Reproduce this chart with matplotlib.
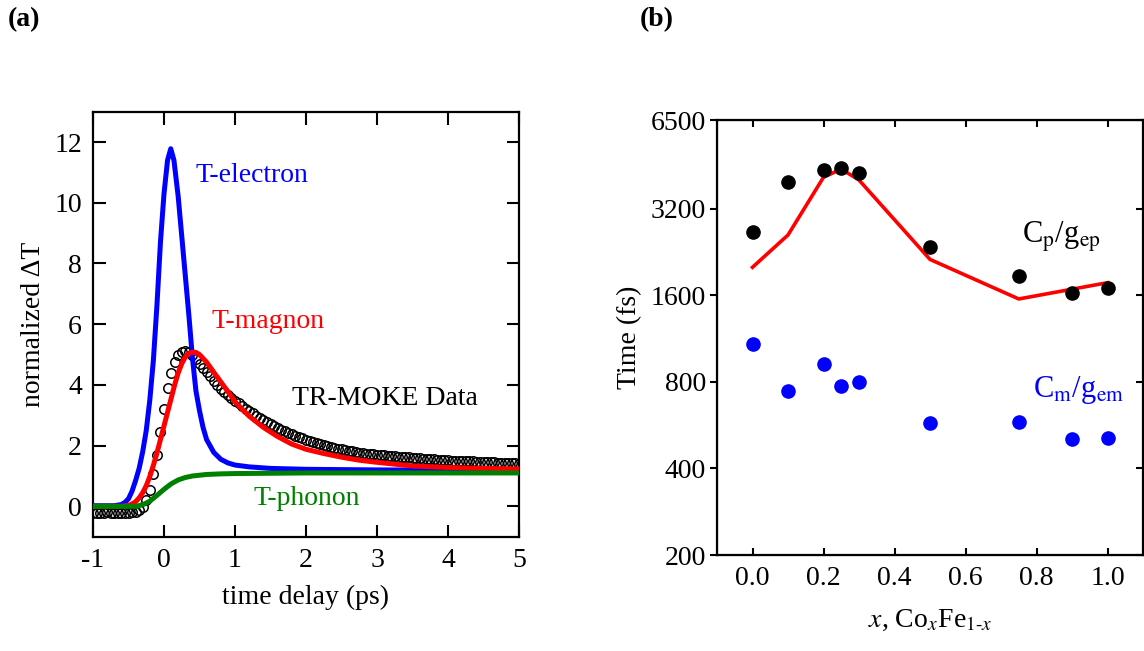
import matplotlib
matplotlib.use('Agg')
import matplotlib.pyplot as plt
import numpy as np
from matplotlib.ticker import FixedLocator, FixedFormatter, NullLocator, NullFormatter

plt.rcParams['font.family'] = ['Liberation Serif', 'DejaVu Serif']
plt.rcParams['mathtext.fontset'] = 'stix'
plt.rcParams['axes.unicode_minus'] = False

# ---- panel (a): normalized temperatures vs time delay ----
moke_t = [-1.0, -0.95, -0.9, -0.85, -0.8, -0.75, -0.7, -0.65, -0.6, -0.55,
          -0.5, -0.45, -0.4, -0.35, -0.3, -0.25, -0.2, -0.15, -0.1, -0.05,
          0.0, 0.05, 0.1, 0.15, 0.2, 0.25, 0.3, 0.35, 0.4, 0.45,
          0.5, 0.55, 0.6, 0.65, 0.7, 0.75, 0.8, 0.85, 0.9, 0.95,
          1.0, 1.05, 1.1, 1.15, 1.2, 1.25, 1.3, 1.35, 1.4, 1.45,
          1.5, 1.55, 1.6, 1.65, 1.7, 1.75, 1.8, 1.85, 1.9, 1.95,
          2.0, 2.05, 2.1, 2.15, 2.2, 2.25, 2.3, 2.35, 2.4, 2.45,
          2.5, 2.55, 2.6, 2.65, 2.7, 2.75, 2.8, 2.85, 2.9, 2.95,
          3.0, 3.05, 3.1, 3.15, 3.2, 3.25, 3.3, 3.35, 3.4, 3.45,
          3.5, 3.55, 3.6, 3.65, 3.7, 3.75, 3.8, 3.85, 3.9, 3.95,
          4.0, 4.05, 4.1, 4.15, 4.2, 4.25, 4.3, 4.35, 4.4, 4.45,
          4.5, 4.55, 4.6, 4.65, 4.7, 4.75, 4.8, 4.85, 4.9, 4.95,
          5.0]
moke_v = [-0.22, -0.21, -0.23, -0.22, -0.20, -0.22, -0.21, -0.23, -0.22, -0.21,
          -0.22, -0.20, -0.18, -0.12, -0.02, 0.20, 0.55, 1.05, 1.70, 2.45,
          3.20, 3.90, 4.40, 4.75, 4.97, 5.08, 5.12, 5.08, 4.98, 4.85,
          4.70, 4.55, 4.42, 4.28, 4.14, 4.00, 3.88, 3.78, 3.68, 3.58,
          3.48, 3.39, 3.30, 3.22, 3.14, 3.06, 2.98, 2.91, 2.84, 2.77,
          2.71, 2.65, 2.59, 2.53, 2.48, 2.42, 2.37, 2.32, 2.28, 2.24,
          2.20, 2.16, 2.12, 2.08, 2.05, 2.01, 1.98, 1.95, 1.93, 1.90,
          1.88, 1.85, 1.83, 1.81, 1.79, 1.77, 1.76, 1.74, 1.73, 1.71,
          1.70, 1.69, 1.68, 1.67, 1.66, 1.65, 1.64, 1.63, 1.62, 1.61,
          1.60, 1.59, 1.58, 1.57, 1.56, 1.56, 1.55, 1.54, 1.53, 1.53,
          1.52, 1.51, 1.51, 1.50, 1.50, 1.49, 1.48, 1.48, 1.47, 1.47,
          1.46, 1.46, 1.45, 1.45, 1.44, 1.44, 1.43, 1.43, 1.42, 1.42,
          1.41]

elec_t = [-1.0, -0.7, -0.6, -0.55, -0.5, -0.45, -0.4, -0.35, -0.3, -0.25, -0.2, -0.15, -0.1,
          -0.05, 0.0, 0.05, 0.095, 0.14, 0.2, 0.25, 0.3, 0.35, 0.4, 0.45, 0.5, 0.55, 0.6, 0.7,
          0.8, 0.9, 1.0, 1.2, 1.5, 2.0, 3.0, 4.0, 5.0]
elec_v = [0.02, 0.02, 0.06, 0.13, 0.25, 0.5, 0.85, 1.25, 1.8, 2.5, 3.5, 4.8, 6.6,
          8.7, 10.3, 11.4, 11.78, 11.4, 10.2, 8.9, 7.6, 6.3, 4.9, 3.8, 3.15, 2.6, 2.2, 1.78,
          1.55, 1.43, 1.36, 1.3, 1.25, 1.22, 1.2, 1.19, 1.18]

mag_t = [-1.0, -0.6, -0.5, -0.45, -0.4, -0.35, -0.3, -0.25, -0.2, -0.15, -0.1, -0.05, 0.0,
         0.05, 0.1, 0.15, 0.2, 0.25, 0.3, 0.35, 0.4, 0.45, 0.5, 0.6, 0.7, 0.8, 0.9, 1.0,
         1.1, 1.2, 1.4, 1.6, 1.8, 2.0, 2.25, 2.5, 2.75, 3.0, 3.5, 4.0, 4.5, 5.0]
mag_v = [0.0, 0.0, 0.03, 0.08, 0.15, 0.28, 0.45, 0.68, 0.98, 1.35, 1.75, 2.2, 2.65,
         3.1, 3.55, 4.0, 4.4, 4.7, 4.92, 5.04, 5.08, 5.07, 5.0, 4.75, 4.42, 4.1, 3.78, 3.45,
         3.2, 2.97, 2.6, 2.3, 2.05, 1.88, 1.74, 1.62, 1.52, 1.45, 1.33, 1.28, 1.25, 1.23]

phon_t = [-1.0, -0.4, -0.3, -0.2, -0.1, 0.0, 0.1, 0.2, 0.3, 0.4, 0.6, 0.8, 1.0, 2.0, 3.0, 4.0, 5.0]
phon_v = [0.0, 0.0, 0.05, 0.17, 0.36, 0.56, 0.74, 0.87, 0.95, 1.0, 1.05, 1.07, 1.08, 1.1, 1.1, 1.1, 1.1]

# ---- panel (b): relaxation times vs composition ----
comp_x = [0.0, 0.1, 0.2, 0.25, 0.3, 0.5, 0.75, 0.9, 1.0]
cp_gep = [2660, 3970, 4360, 4420, 4240, 2360, 1870, 1625, 1700]
cm_gem = [1080, 745, 920, 776, 797, 574, 581, 505, 511]
fit_x = [0.0, 0.1, 0.2, 0.25, 0.3, 0.5, 0.75, 1.0]
fit_cp = [2000, 2590, 4110, 4390, 4020, 2130, 1552, 1768]
b_yticks = [200, 400, 800, 1600, 3200, 6500]

fig = plt.figure(figsize=(11.44, 6.51), dpi=100)

ax1 = fig.add_axes([93/1144, 1-536.7/651, 426/1144, 425/651])
ax1.plot(moke_t, moke_v, 'o', mfc='none', mec='black', ms=6.8, mew=1.1, zorder=2)
ax1.plot(elec_t, elec_v, color='#0000ff', lw=3.6, zorder=3)
ax1.plot(mag_t, mag_v, color='#ff0000', lw=3.6, zorder=4)
ax1.plot(phon_t, phon_v, color='#008000', lw=3.6, zorder=5)
ax1.set_xlim(-1, 5)
ax1.set_ylim(-1, 13)
ax1.set_xticks([-1, 0, 1, 2, 3, 4, 5])
ax1.set_yticks([0, 2, 4, 6, 8, 10, 12])
ax1.tick_params(direction='in', length=9, width=1.5, top=True, right=True, labelsize=20, pad=8)
for s in ax1.spines.values():
    s.set_linewidth(1.6)
ax1.set_xlabel('time delay (ps)', fontsize=20, labelpad=9)
ax1.set_ylabel('normalized ΔT', fontsize=20, labelpad=6)
ax1.text(0.44, 10.9, 'T-electron', color='#0000ff', fontsize=20, va='center')
ax1.text(0.67, 6.1, 'T-magnon', color='#ff0000', fontsize=20, va='center')
ax1.text(1.8, 3.55, 'TR-MOKE Data', color='black', fontsize=20, va='center')
ax1.text(1.26, 0.25, 'T-phonon', color='#008000', fontsize=20, va='center')

ax2 = fig.add_axes([717/1144, 1-555/651, 426/1144, 435/651])
ax2.plot(fit_x, fit_cp, color='#ff0000', lw=2.6, zorder=2)
ax2.plot(comp_x, cp_gep, 'o', color='black', ms=9.5, zorder=3)
ax2.plot(comp_x, cm_gem, 'o', color='#0000ff', ms=9.5, zorder=3)
ax2.set_yscale('log')
ax2.set_ylim(200, 6500)
ax2.set_xlim(-0.1, 1.1)
ax2.yaxis.set_major_locator(FixedLocator(b_yticks))
ax2.yaxis.set_major_formatter(FixedFormatter([str(v) for v in b_yticks]))
ax2.yaxis.set_minor_locator(NullLocator())
ax2.set_xticks([0.0, 0.2, 0.4, 0.6, 0.8, 1.0])
ax2.set_xticklabels(['0.0', '0.2', '0.4', '0.6', '0.8', '1.0'])
ax2.tick_params(axis='x', direction='in', length=5, width=1.5, top=True, labelsize=20, pad=8)
ax2.tick_params(axis='y', which='major', direction='out', length=5, width=1.5, labelsize=20, pad=3)
for s in ax2.spines.values():
    s.set_linewidth(1.6)

# inward ticks on the right side only
ax2r = ax2.twinx()
ax2r.set_yscale('log')
ax2r.set_ylim(200, 6500)
ax2r.yaxis.set_major_locator(FixedLocator(b_yticks))
ax2r.yaxis.set_major_formatter(NullFormatter())
ax2r.yaxis.set_minor_locator(NullLocator())
ax2r.tick_params(axis='y', direction='in', length=5, width=1.5)

ax2.set_xlabel(r'$x$, Co$_x$Fe$_{1\text{-}x}$', fontsize=20, labelpad=12)
ax2.set_ylabel('Time (fs)', fontsize=20, labelpad=6)
ax2.text(0.76, 2550, r'C$_\mathrm{p}$/g$_\mathrm{ep}$', fontsize=22, va='center')
ax2.text(0.79, 750, r'C$_\mathrm{m}$/g$_\mathrm{em}$', fontsize=22, va='center', color='#0000ff')

fig.text(8/1144, 1-20/651, '(a)', fontsize=20, fontweight='bold', va='center')
fig.text(640/1144, 1-20/651, '(b)', fontsize=20, fontweight='bold', va='center')

fig.savefig('out.png', dpi=100)
